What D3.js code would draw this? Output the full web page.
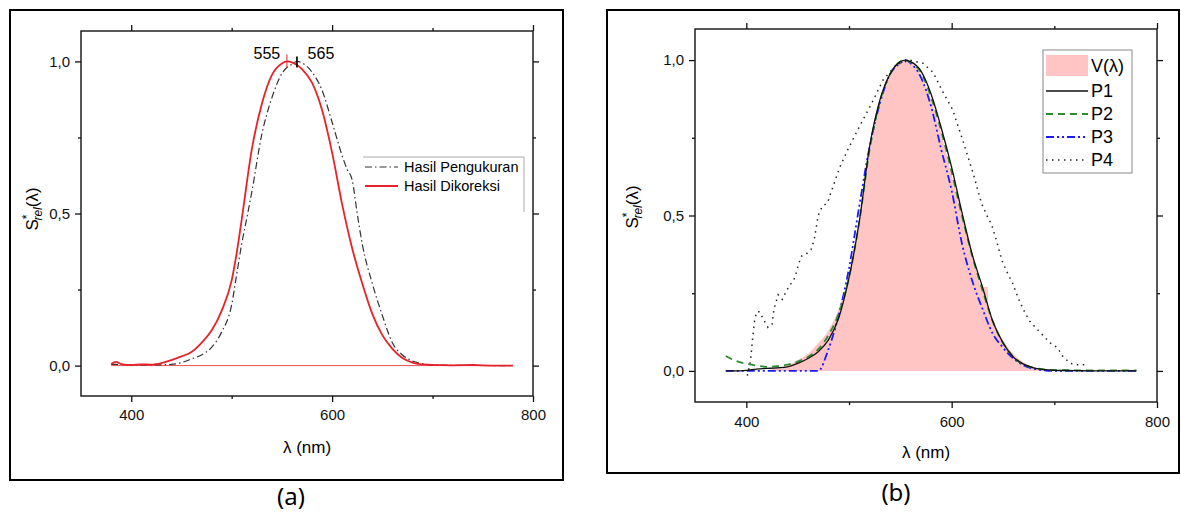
<!DOCTYPE html>
<html>
<head>
<meta charset="utf-8">
<script src="https://cdn.jsdelivr.net/npm/d3@7"></script>
<style>
  body { margin: 0; background: #fff; }
  svg { display: block; }
  .tick text { font-family: "Liberation Sans", Arial, sans-serif; font-size: 15px; fill: #111; }
  .tick line { stroke: #111; stroke-width: 1.3; }
</style>
</head>
<body>
<div id="chart"></div>
<script>
// ---- data (a) ----
const wlCorrected = [380,385,390,400,410,420,430,440,450,460,470,480,490,500,505,510,520,530,540,550,555,560,570,580,590,600,610,620,630,640,650,660,670,680,690,700,720,740,760,780];
const valCorrected = [0.005,0.012,0.005,0.002,0.004,0.003,0.008,0.018,0.03,0.045,0.075,0.115,0.18,0.28,0.37,0.48,0.71,0.86,0.955,0.993,1.0,0.997,0.975,0.93,0.84,0.70,0.53,0.385,0.27,0.17,0.10,0.055,0.025,0.01,0.004,0.002,0.001,0.002,0.0,0.0];

const wlMeasured = [380,390,400,420,440,450,460,470,480,490,500,505,510,516,520,530,540,550,555,560,565,570,580,590,600,610,615,620,625,630,640,650,660,670,680,690,700,720,780];
const valMeasured = [0.004,0.004,0.002,0.002,0.004,0.01,0.022,0.035,0.06,0.11,0.2,0.3,0.4,0.5,0.57,0.76,0.88,0.96,0.98,0.99,1.0,0.995,0.965,0.905,0.8,0.69,0.645,0.61,0.5,0.4,0.27,0.165,0.075,0.035,0.015,0.006,0.002,0.001,0.0];

const peakLabels = [555, 565];

// ---- data (b) ----
const wlV = [420,430,440,450,460,470,480,490,500,510,520,530,540,550,555,560,570,580,590,600,610,620,630,635,636,640,650,660,670,680,690,700];
const valV = [0.0,0.01,0.018,0.035,0.055,0.09,0.13,0.2,0.31,0.49,0.7,0.855,0.95,0.993,1.0,0.995,0.95,0.87,0.76,0.63,0.5,0.38,0.27,0.27,0.195,0.165,0.1,0.055,0.028,0.012,0.005,0.0];

const wlP = [380,390,400,410,420,430,440,450,460,470,480,490,500,510,520,530,540,550,555,560,570,580,590,600,610,620,630,640,650,660,670,680,690,700,720,740,760,780];
const valP1 = [0,0,0.002,0.006,0.008,0.01,0.013,0.024,0.04,0.062,0.1,0.17,0.3,0.48,0.72,0.87,0.955,0.995,1.0,0.995,0.965,0.89,0.78,0.655,0.51,0.375,0.27,0.16,0.09,0.045,0.022,0.01,0.004,0.002,0.001,0,0,0];
const valP2 = [0.048,0.032,0.023,0.017,0.013,0.015,0.02,0.03,0.045,0.07,0.115,0.185,0.3,0.48,0.71,0.865,0.955,0.995,1.0,0.993,0.96,0.88,0.77,0.64,0.5,0.37,0.26,0.16,0.09,0.045,0.02,0.01,0.005,0.003,0.002,0.002,0.002,0.002];
const valP3 = [0,0,0,0,0,0,0,0,0,0,0.07,0.18,0.33,0.53,0.72,0.86,0.955,0.99,1.0,0.99,0.945,0.85,0.71,0.58,0.41,0.29,0.2,0.12,0.075,0.04,0.018,0.007,0.002,0,0,0,0,0];

const wlP4 = [401,404,406,408,410,413,416,421,425,427,431,435,438,442,446,449,451,454,458,463,466,468,470,474,479,482,491,500,510,522,533,546,559,572,582,591,601,611,621,629,635,639,644,649,655,659,663,666,671,676,683,691,696,703,708,715,722,730];
const valP4 = [-0.015,0.03,0.1,0.16,0.19,0.19,0.17,0.14,0.15,0.2,0.245,0.23,0.25,0.275,0.29,0.32,0.345,0.37,0.375,0.39,0.42,0.46,0.5,0.53,0.54,0.57,0.655,0.72,0.785,0.86,0.935,0.985,1.0,0.99,0.96,0.9,0.84,0.74,0.635,0.54,0.495,0.47,0.415,0.355,0.31,0.285,0.25,0.225,0.19,0.16,0.135,0.107,0.09,0.075,0.048,0.025,0.02,0.02];

const xMajor = [400, 600, 800], xMinor = [500, 700];
const yMajor = [0, 0.5, 1.0], yMinor = [0.25, 0.75];

const FONT = '"Liberation Sans", Arial, sans-serif';
const fmt = d3.formatLocale({decimal: ",", thousands: ".", grouping: [3], currency: ["", ""]}).format(".1f");

const svg = d3.select("#chart").append("svg")
  .attr("width", 1181).attr("height", 512);

const zip = (a, b) => a.map((d, i) => [d, b[i]]);

function panel(box, plot, labelY, xPad) {
  // outer frame
  svg.append("rect")
    .attr("x", box.x0).attr("y", box.y0)
    .attr("width", box.x1 - box.x0).attr("height", box.y1 - box.y0)
    .attr("fill", "none").attr("stroke", "#000").attr("stroke-width", 2);

  const x = d3.scaleLinear().domain([350, 800]).range([plot.x0, plot.x1]);
  const y = d3.scaleLinear().domain([-0.1, 1.1]).range([plot.y1, plot.y0]);

  const g = svg.append("g");
  const add = (axis, tx, ty) => {
    const a = g.append("g").attr("transform", `translate(${tx},${ty})`).call(axis);
    a.select(".domain").remove();
    return a;
  };
  add(d3.axisBottom(x).tickValues(xMajor).tickSize(6).tickPadding(xPad).tickFormat(d3.format("d")), 0, plot.y1);
  add(d3.axisBottom(x).tickValues(xMinor).tickSize(3).tickFormat(""), 0, plot.y1);
  add(d3.axisTop(x).tickValues(xMajor).tickSize(6).tickFormat(""), 0, plot.y0);
  add(d3.axisTop(x).tickValues(xMinor).tickSize(3).tickFormat(""), 0, plot.y0);
  add(d3.axisLeft(y).tickValues(yMajor).tickSize(6).tickPadding(5).tickFormat(fmt), plot.x0, 0);
  add(d3.axisLeft(y).tickValues(yMinor).tickSize(3).tickFormat(""), plot.x0, 0);
  add(d3.axisRight(y).tickValues(yMajor).tickSize(6).tickFormat(""), plot.x1, 0);
  add(d3.axisRight(y).tickValues(yMinor).tickSize(3).tickFormat(""), plot.x1, 0);

  const layer = svg.append("g");

  // plot frame
  svg.append("rect")
    .attr("x", plot.x0).attr("y", plot.y0)
    .attr("width", plot.x1 - plot.x0).attr("height", plot.y1 - plot.y0)
    .attr("fill", "none").attr("stroke", "#111").attr("stroke-width", 1.4);

  // axis titles
  svg.append("text")
    .attr("x", (plot.x0 + plot.x1) / 2).attr("y", labelY.xTitle)
    .attr("text-anchor", "middle")
    .style("font-family", FONT).style("font-size", "17px")
    .text("λ (nm)");

  const yt = svg.append("text")
    .attr("transform", `translate(${labelY.yx},${labelY.yy}) rotate(-90)`)
    .attr("text-anchor", "middle")
    .style("font-family", FONT).style("font-size", "17px");
  yt.append("tspan").text("S");
  yt.append("tspan").attr("dy", -7).style("font-size", "12px").text("*");
  yt.append("tspan").attr("dx", -6).attr("dy", 11).style("font-size", "12px").style("font-style", "italic").text("rel");
  yt.append("tspan").attr("dy", -4).text("(λ)");

  svg.append("text")
    .attr("x", labelY.tagX).attr("y", labelY.tagY)
    .attr("text-anchor", "middle")
    .style("font-family", '"Noto Sans", "Open Sans", sans-serif').style("font-size", "24px")
    .text(labelY.tag);

  return {x, y, layer};
}

// ---------- panel (a) ----------
const A = panel({x0: 10, y0: 10, x1: 563, y1: 480}, {x0: 81, y0: 31, x1: 533, y1: 396},
  {xTitle: 453, yx: 38, yy: 209, tagX: 291, tagY: 505, tag: "(a)"}, 7);

const lineA = d3.line().x(d => A.x(d[0])).y(d => A.y(d[1])).curve(d3.curveMonotoneX);

A.layer.append("line")
  .attr("x1", A.x(380)).attr("x2", A.x(780)).attr("y1", A.y(0)).attr("y2", A.y(0))
  .attr("stroke", "#e8222a").attr("stroke-width", 0.8);

A.layer.append("path").datum(zip(wlMeasured, valMeasured))
  .attr("d", lineA).attr("fill", "none")
  .attr("stroke", "#333").attr("stroke-width", 1.2)
  .attr("stroke-dasharray", "7,3,1.5,3");

A.layer.append("path").datum(zip(wlCorrected, valCorrected))
  .attr("d", lineA).attr("fill", "none")
  .attr("stroke", "#e8222a").attr("stroke-width", 1.8);

// peak markers
A.layer.append("line")
  .attr("x1", A.x(peakLabels[0])).attr("x2", A.x(peakLabels[0]))
  .attr("y1", A.y(1) - 7).attr("y2", A.y(1) + 6)
  .attr("stroke", "#e8222a").attr("stroke-width", 1);
A.layer.append("line")
  .attr("x1", A.x(peakLabels[1])).attr("x2", A.x(peakLabels[1]))
  .attr("y1", A.y(1) - 5).attr("y2", A.y(1) + 6)
  .attr("stroke", "#111").attr("stroke-width", 1.8);
A.layer.append("text")
  .attr("x", A.x(peakLabels[0]) - 20).attr("y", 59).attr("text-anchor", "middle")
  .style("font-family", FONT).style("font-size", "16px").text(peakLabels[0]);
A.layer.append("text")
  .attr("x", A.x(peakLabels[1]) + 24).attr("y", 59).attr("text-anchor", "middle")
  .style("font-family", FONT).style("font-size", "16px").text(peakLabels[1]);

// legend (a)
const legA = svg.append("g");
legA.append("path").attr("d", "M363,157H524V212")
  .attr("fill", "none").attr("stroke", "#aaa").attr("stroke-width", 1);
[["Hasil Pengukuran", "#333", "7,3,1.5,3", 1.2], ["Hasil Dikoreksi", "#e8222a", null, 1.8]].forEach((d, i) => {
  const yy = 167 + i * 19;
  legA.append("line").attr("x1", 365).attr("x2", 398).attr("y1", yy).attr("y2", yy)
    .attr("stroke", d[1]).attr("stroke-width", d[3]).attr("stroke-dasharray", d[2]);
  legA.append("text").attr("x", 404).attr("y", yy + 5)
    .style("font-family", FONT).style("font-size", "14.5px").text(d[0]);
});

// ---------- panel (b) ----------
const B = panel({x0: 607, y0: 10, x1: 1179, y1: 473}, {x0: 695, y0: 29, x1: 1157, y1: 402},
  {xTitle: 458, yx: 638, yy: 207, tagX: 896, tagY: 501, tag: "(b)"}, 8);

const areaV = d3.area().x(d => B.x(d[0])).y0(B.y(0)).y1(d => B.y(d[1])).curve(d3.curveMonotoneX);
const lineB = d3.line().x(d => B.x(d[0])).y(d => B.y(d[1])).curve(d3.curveMonotoneX);

B.layer.append("path").datum(zip(wlV, valV))
  .attr("d", areaV).attr("fill", "#ffc4c4");

B.layer.append("path").datum(zip(wlP4, valP4))
  .attr("d", d3.line().x(d => B.x(d[0])).y(d => B.y(d[1])))
  .attr("fill", "none").attr("stroke", "#222").attr("stroke-width", 1.5)
  .attr("stroke-dasharray", "1.5,4.5");

const seriesB = [
  {vals: valP1, color: "#111", dash: null, w: 1.3},
  {vals: valP2, color: "#2e8b2e", dash: "7,5", w: 1.8},
  {vals: valP3, color: "#1a1aff", dash: "8,3,2,3,2,3", w: 1.8},
];
seriesB.slice().reverse().forEach(s => {
  B.layer.append("path").datum(zip(wlP, s.vals))
    .attr("d", lineB).attr("fill", "none")
    .attr("stroke", s.color).attr("stroke-width", s.w)
    .attr("stroke-dasharray", s.dash);
});

// legend (b)
const legB = svg.append("g");
legB.append("rect").attr("x", 1043).attr("y", 50).attr("width", 89).attr("height", 123)
  .attr("fill", "#fff").attr("stroke", "#888").attr("stroke-width", 1);
legB.append("rect").attr("x", 1046).attr("y", 55).attr("width", 42).attr("height", 21).attr("fill", "#ffc4c4");
legB.append("text").attr("x", 1091).attr("y", 72)
  .style("font-family", FONT).style("font-size", "18px").text("V(λ)");
const legItems = [
  {name: "P1", color: "#111", dash: null, w: 1.3},
  {name: "P2", color: "#2e8b2e", dash: "7,5", w: 1.8},
  {name: "P3", color: "#1a1aff", dash: "8,3,2,3,2,3", w: 1.8},
  {name: "P4", color: "#222", dash: "1.5,4.5", w: 1.5},
];
legItems.forEach((d, i) => {
  const yy = 91 + i * 23;
  legB.append("line").attr("x1", 1046).attr("x2", 1088).attr("y1", yy).attr("y2", yy)
    .attr("stroke", d.color).attr("stroke-width", d.w).attr("stroke-dasharray", d.dash);
  legB.append("text").attr("x", 1091).attr("y", yy + 6)
    .style("font-family", FONT).style("font-size", "18px").text(d.name);
});
</script>
</body>
</html>
